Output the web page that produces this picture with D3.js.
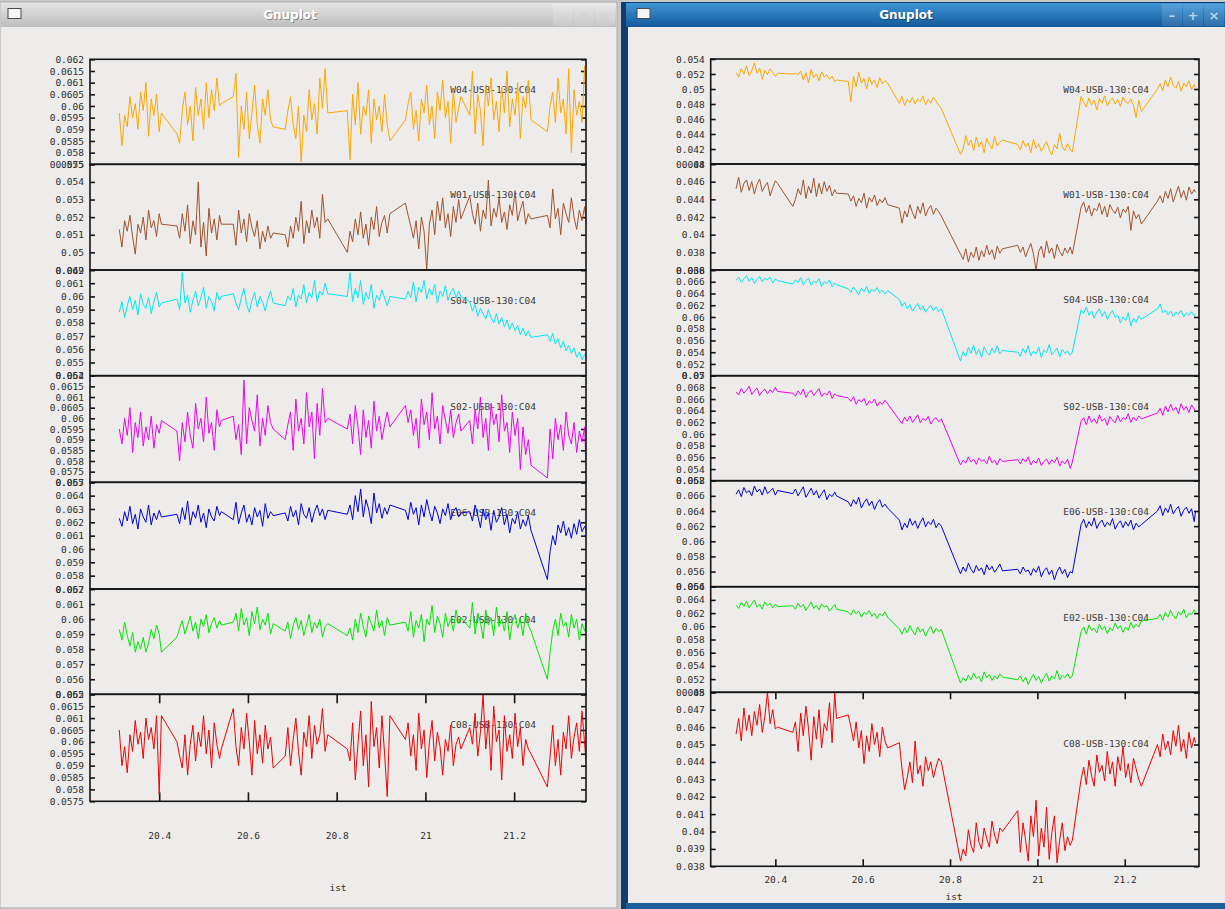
<!DOCTYPE html>
<html>
<head>
<meta charset="utf-8">
<script src="https://cdn.jsdelivr.net/npm/d3@7"></script>
<style>
  body { margin: 0; background: #c9c9c9; }
  svg { display: block; }
</style>
</head>
<body>
<div id="graf"></div>
<script>
// I. Datos (valores en unidades de 1e-4)
const unidad = 1e-4

const tiempo = [
  20.310, 20.316, 20.322, 20.328, 20.334, 20.340, 20.346, 20.352, 20.358, 20.364, 20.370, 20.376, 20.382, 20.388, 20.394, 20.400, 20.405,
  20.440, 20.446, 20.452, 20.458, 20.464, 20.470, 20.476, 20.482, 20.488, 20.494, 20.500, 20.506, 20.512, 20.518, 20.524, 20.530, 20.536, 20.540,
  20.567, 20.573, 20.579, 20.585, 20.591, 20.597, 20.603, 20.609, 20.615, 20.621, 20.627, 20.633, 20.639, 20.645, 20.651, 20.657,
  20.684, 20.690, 20.696, 20.702, 20.708, 20.714, 20.720, 20.726, 20.732, 20.738, 20.744, 20.750, 20.756, 20.762, 20.768, 20.774, 20.780,
  20.824, 20.830, 20.836, 20.842, 20.848, 20.854, 20.860, 20.866, 20.872, 20.878, 20.884, 20.890, 20.896, 20.902, 20.908, 20.914, 20.920,
  20.955, 20.961, 20.967, 20.973, 20.979, 20.985, 20.991, 20.997, 21.003, 21.009, 21.015, 21.021, 21.027, 21.033, 21.039, 21.045, 21.051, 21.057, 21.063, 21.069, 21.075, 21.080,
  21.100, 21.106, 21.112, 21.118, 21.124, 21.130, 21.136, 21.142, 21.148, 21.154, 21.160, 21.166, 21.172, 21.178, 21.184, 21.190, 21.196, 21.202, 21.208, 21.214, 21.220, 21.226, 21.232, 21.238,
  21.275, 21.281, 21.287, 21.293, 21.299, 21.305, 21.311, 21.317, 21.323, 21.329, 21.335, 21.341, 21.347, 21.353, 21.359, 21.362
]

// ventana izquierda
const w04Izq = [
  597, 583, 596, 591, 604, 595, 601, 590, 606, 598, 610, 587, 603, 596, 605, 589, 597,
  588, 584, 598, 606, 592, 600, 585, 608, 596, 603, 590, 610, 595, 607, 598, 612, 600, 601,
  604, 614, 578, 600, 590, 606, 586, 597, 609, 592, 584, 603, 596, 607, 594, 591,
  590, 598, 604, 592, 586, 600, 576, 596, 589, 607, 594, 601, 588, 612, 599, 616, 597,
  598, 577, 605, 592, 610, 588, 600, 596, 607, 584, 603, 594, 600, 589, 605, 592, 585,
  594, 601, 606, 590, 598, 585, 603, 597, 609, 592, 600, 586, 606, 598, 611, 595, 602, 584, 607, 593, 599, 604,
  596, 615, 588, 605, 598, 583, 609, 600, 612, 594, 602, 589, 608, 597, 615, 591, 603, 596, 610, 586, 604, 599, 611, 594,
  589, 600, 606, 593, 612, 597, 603, 588, 616, 580, 607, 596, 602, 593, 617, 600
]
const w01Izq = [
  513, 503, 518, 512, 521, 509, 499, 516, 511, 520, 507, 524, 514, 518, 509, 522, 516,
  515, 508, 522, 512, 527, 505, 518, 510, 540, 503, 517, 498, 525, 511, 519, 507, 521, 516,
  516, 504, 524, 511, 519, 506, 522, 514, 509, 518, 502, 512, 506, 515, 508, 511,
  510, 503, 515, 508, 520, 512, 529, 505, 518, 511, 524, 514, 520, 508, 533, 517, 519,
  500, 512, 506, 519, 510, 523, 508, 516, 504, 520, 513, 526, 509, 517, 521, 511, 522,
  528, 521, 515, 508, 518, 502, 520, 512, 490, 516, 524, 510, 529, 518, 531, 514, 522, 509, 526, 517, 530, 519,
  532, 522, 516, 528, 512, 524, 519, 541, 515, 525, 520, 531, 517, 523, 513, 527, 521, 535, 518, 524, 529, 516, 522, 519,
  521, 514, 536, 519, 525, 510, 528, 522, 517, 531, 520, 513, 524, 518, 526, 517
]
const s04Izq = [
  588, 596, 584, 593, 600, 590, 597, 586, 602, 594, 591, 599, 587, 596, 603, 592, 595,
  598, 590, 618, 595, 601, 588, 597, 604, 593, 599, 607, 591, 600, 596, 589, 603, 597, 600,
  602, 595, 590, 599, 606, 594, 588, 597, 603, 592, 600, 596, 589, 598, 604, 595,
  593, 600, 597, 606, 592, 601, 598, 609, 595, 603, 599, 612, 596, 604, 601, 610, 602,
  600, 618, 596, 606, 599, 612, 594, 603, 598, 609, 591, 601, 597, 605, 599, 593, 600,
  598, 604, 599, 611, 596, 607, 603, 612, 598, 606, 601, 609, 595, 604, 600, 608, 597, 603, 606, 599, 604, 600,
  596, 589, 594, 585, 591, 587, 583, 590, 584, 580, 587, 579, 584, 577, 582, 575, 580, 574, 578, 571, 576, 570, 574, 569,
  571, 566, 572, 564, 568, 561, 566, 559, 563, 557, 561, 554, 558, 552, 556, 553
]
const s02Izq = [
  595, 588, 600, 592, 605, 584, 598, 591, 603, 587, 596, 590, 601, 586, 597, 593, 599,
  594, 580, 598, 589, 603, 592, 586, 607, 595, 600, 589, 610, 593, 598, 585, 604, 596, 599,
  601, 590, 597, 583, 618, 588, 605, 599, 594, 611, 587, 600, 592, 606, 598, 595,
  590, 597, 603, 585, 609, 594, 600, 588, 612, 596, 603, 581, 607, 592, 614, 598, 600,
  595, 602, 588, 606, 596, 583, 604, 591, 599, 586, 608, 594, 601, 590, 597, 603, 596,
  606, 598, 604, 592, 600, 586, 609, 597, 603, 590, 612, 595, 601, 588, 606, 599, 593, 604, 591, 598, 602, 594,
  599, 588, 604, 595, 610, 591, 600, 585, 607, 597, 602, 589, 611, 594, 598, 584, 603, 592, 600, 576, 596, 583, 590, 578,
  572, 595, 581, 600, 590, 597, 585, 603, 592, 588, 598, 584, 594, 589, 596, 578
]
const e06Izq = [
  623, 617, 628, 621, 632, 619, 626, 615, 630, 624, 620, 633, 618, 627, 622, 629, 624,
  626, 619, 631, 622, 636, 618, 628, 623, 633, 620, 627, 616, 630, 624, 621, 632, 625, 628,
  622, 635, 619, 627, 633, 620, 626, 618, 631, 624, 629, 617, 634, 623, 628, 625,
  627, 621, 632, 624, 629, 618, 634, 626, 623, 631, 620, 628, 633, 625, 630, 622, 629,
  626, 633, 622, 640, 628, 645, 624, 637, 630, 619, 642, 627, 634, 623, 631, 626, 633,
  629, 622, 635, 626, 631, 618, 633, 624, 637, 628, 621, 632, 627, 619, 630, 625, 634, 622, 628, 631, 624, 627,
  628, 621, 633, 625, 616, 630, 622, 627, 614, 629, 620, 624, 631, 618, 626, 612, 623, 619, 628, 615, 622, 617, 625, 614,
  577, 598, 610, 603, 618, 612, 621, 610, 616, 608, 619, 611, 622, 613, 617, 614
]
const e02Izq = [
  593, 586, 598, 589, 582, 591, 578, 585, 580, 588, 578, 584, 593, 587, 596, 590, 578,
  588, 594, 599, 590, 596, 602, 592, 598, 587, 600, 595, 603, 591, 597, 601, 594, 599, 596,
  598, 604, 592, 607, 596, 601, 589, 605, 597, 608, 593, 600, 596, 604, 590, 597,
  592, 598, 587, 596, 601, 593, 599, 589, 596, 603, 591, 598, 594, 600, 588, 595, 597,
  589, 594, 586, 600, 591, 604, 595, 588, 602, 597, 592, 606, 594, 599, 589, 601, 596,
  598, 592, 605, 588, 599, 594, 603, 585, 600, 596, 609, 591, 602, 597, 588, 604, 595, 600, 592, 606, 597, 601,
  594, 611, 590, 604, 598, 587, 606, 596, 601, 589, 608, 595, 600, 592, 605, 586, 598, 603, 594, 600, 589, 604, 596, 592,
  560, 578, 592, 600, 589, 604, 595, 598, 588, 603, 594, 600, 586, 597, 592, 599
]
const c08Izq = [
  605, 590, 598, 587, 603, 596, 609, 599, 604, 593, 610, 601, 606, 597, 611, 578, 611,
  600, 594, 589, 603, 586, 599, 607, 592, 604, 598, 611, 595, 605, 589, 608, 599, 593, 597,
  614, 598, 590, 606, 597, 612, 600, 586, 609, 595, 603, 591, 607, 597, 602, 589,
  594, 606, 590, 601, 610, 596, 586, 604, 598, 611, 593, 607, 599, 603, 614, 596, 603,
  597, 592, 608, 584, 599, 613, 590, 603, 581, 617, 598, 606, 589, 611, 595, 577, 611,
  601, 608, 594, 603, 588, 612, 597, 605, 585, 600, 609, 592, 604, 598, 586, 601, 596, 607, 590, 599, 602, 597,
  606, 599, 612, 594, 604, 620, 597, 609, 588, 615, 600, 605, 584, 611, 596, 603, 593, 612, 598, 606, 590, 601, 597, 595,
  581, 594, 607, 590, 601, 586, 604, 597, 611, 593, 602, 608, 596, 613, 599, 592
]

// ventana derecha
const w04Der = [
  522, 516, 527, 520, 531, 518, 524, 535, 521, 528, 513, 525, 519, 527, 522, 517, 521,
  520, 521, 519, 524, 512, 522, 508, 526, 515, 520, 511, 523, 516, 519, 513, 517, 510, 512,
  510, 483, 517, 503, 522, 508, 514, 500, 516, 506, 512, 502, 515, 507, 511, 508,
  481, 490, 478, 486, 482, 489, 480, 487, 483, 491, 479, 486, 481, 489, 484, 478, 474,
  413, 420, 438, 425, 432, 418, 436, 423, 430, 415, 434, 426, 420, 437, 424, 429, 432,
  426, 419, 431, 423, 428, 415, 433, 421, 427, 417, 424, 430, 419, 412, 426, 420, 441, 423, 418, 427, 420, 416,
  490, 482, 476, 488, 479, 485, 472, 487, 481, 491, 478, 484, 488, 480, 486, 477, 489, 483, 481, 487, 478, 462, 485, 470,
  500, 507, 498, 512, 503, 516, 505, 501, 510, 497, 508, 503, 511, 499, 506, 502
]
const w01Der = [
  452, 465, 448, 458, 462, 450, 460, 446, 457, 463, 449, 455, 459, 444, 453, 461, 458,
  432, 440, 452, 445, 462, 441, 455, 447, 464, 443, 458, 446, 460, 449, 456, 444, 451, 447,
  446, 438, 444, 432, 441, 436, 447, 430, 442, 437, 445, 433, 440, 436, 442, 434,
  430, 413, 427, 420, 434, 425, 418, 432, 424, 436, 421, 429, 433, 423, 430, 426, 421,
  378, 372, 384, 369, 380, 374, 386, 371, 382, 375, 388, 377, 383, 372, 387, 379, 384,
  388, 380, 386, 375, 383, 390, 378, 360, 381, 387, 374, 393, 379, 385, 373, 389, 381, 376, 385, 379, 386, 378,
  431, 437, 425, 433, 421, 430, 427, 436, 423, 432, 420, 434, 428, 424, 431, 419, 429, 425, 432, 405, 427, 418, 423, 412,
  438, 444, 436, 449, 441, 452, 437, 446, 455, 442, 450, 439, 454, 446, 451, 448
]
const s04Der = [
  662, 668, 659, 665, 670, 661, 667, 657, 664, 669, 660, 666, 663, 668, 658, 665, 662,
  656, 663, 659, 667, 655, 662, 666, 654, 661, 658, 665, 652, 660, 657, 663, 651, 658, 655,
  648, 642, 651, 645, 638, 649, 643, 652, 640, 647, 644, 650, 641, 646, 639, 645,
  630, 618, 625, 614, 621, 610, 617, 623, 612, 619, 608, 615, 620, 611, 617, 609, 614,
  525, 541, 533, 548, 538, 552, 536, 545, 531, 549, 540, 535, 547, 539, 551, 537, 543,
  540, 533, 546, 538, 551, 534, 542, 537, 549, 531, 544, 539, 553, 536, 541, 547, 532, 545, 538, 542, 535, 540,
  612, 606, 617, 603, 610, 598, 608, 614, 601, 609, 596, 605, 611, 599, 603, 590, 600, 594, 607, 585, 598, 591, 602, 596,
  614, 622, 607, 612, 604, 610, 601, 608, 605, 611, 600, 607, 603, 609, 602, 606
]
const s02Der = [
  672, 667, 678, 670, 675, 682, 668, 674, 679, 666, 673, 677, 669, 676, 671, 680, 673,
  670, 665, 674, 668, 677, 663, 671, 675, 666, 672, 678, 664, 670, 667, 674, 661, 669, 666,
  662, 656, 664, 651, 659, 655, 661, 649, 657, 653, 660, 648, 655, 651, 658, 652,
  624, 618, 629, 622, 631, 620, 626, 633, 619, 627, 623, 630, 617, 625, 628, 621, 626,
  547, 555, 550, 561, 552, 557, 548, 559, 553, 556, 549, 562, 551, 555, 547, 558, 553,
  556, 549, 558, 552, 561, 547, 555, 550, 559, 546, 553, 557, 548, 556, 551, 560, 545, 554, 549, 557, 541, 552,
  622, 628, 616, 631, 620, 626, 618, 633, 622, 627, 615, 630, 624, 619, 632, 621, 628, 625, 635, 620, 629, 623, 631, 626,
  636, 644, 632, 648, 638, 651, 640, 646, 635, 652, 641, 647, 637, 650, 643, 639
]
const e06Der = [
  662, 668, 659, 671, 664, 667, 660, 673, 665, 669, 661, 672, 663, 666, 670, 661, 667,
  663, 669, 660, 666, 672, 658, 664, 670, 661, 667, 657, 663, 668, 655, 662, 659, 665, 660,
  652, 646, 655, 649, 658, 644, 651, 656, 647, 653, 642, 650, 655, 645, 649, 644,
  628, 615, 624, 618, 630, 621, 627, 617, 625, 631, 619, 626, 622, 629, 618, 624, 620,
  557, 566, 560, 571, 563, 558, 568, 561, 565, 556, 569, 562, 567, 559, 564, 570, 561,
  563, 557, 566, 560, 562, 555, 564, 559, 567, 553, 561, 565, 556, 562, 549, 560, 566, 557, 563, 552, 560, 558,
  622, 629, 618, 626, 620, 631, 617, 624, 628, 619, 625, 621, 630, 616, 623, 627, 618, 626, 620, 628, 615, 624, 619, 622,
  640, 647, 634, 644, 638, 649, 636, 642, 646, 633, 641, 645, 637, 643, 626, 639
]
const e02Der = [
  632, 627, 636, 630, 638, 628, 634, 640, 629, 633, 626, 637, 631, 635, 628, 633, 630,
  631, 626, 635, 629, 633, 624, 630, 637, 627, 632, 625, 634, 629, 631, 623, 628, 633, 626,
  622, 617, 625, 619, 623, 614, 621, 618, 624, 615, 620, 612, 619, 616, 622, 614,
  596, 588, 598, 590, 601, 593, 587, 599, 591, 596, 585, 594, 600, 589, 597, 592, 595,
  514, 522, 517, 526, 519, 529, 521, 524, 516, 531, 522, 527, 518, 525, 520, 528, 523,
  519, 525, 516, 523, 512, 521, 527, 518, 524, 514, 522, 529, 517, 525, 520, 533, 519, 526, 522, 528, 521, 525,
  592, 599, 588, 602, 594, 597, 590, 603, 595, 600, 589, 598, 593, 605, 596, 601, 591, 599, 594, 606, 597, 603, 599, 608,
  612, 618, 609, 621, 614, 624, 616, 611, 622, 617, 626, 613, 620, 618, 625, 622
]
const c08Der = [
  456, 465, 452, 471, 458, 467, 455, 469, 461, 473, 457, 466, 480, 462, 470, 459, 460,
  457, 463, 446, 468, 455, 472, 459, 441, 466, 453, 470, 448, 462, 458, 474, 451, 480, 465,
  467, 460, 452, 463, 448, 458, 439, 455, 446, 462, 450, 457, 443, 460, 452, 448,
  451, 436, 424, 431, 440, 428, 452, 433, 438, 426, 443, 435, 440, 431, 437, 442, 440,
  383, 390, 386, 401, 392, 388, 405, 394, 390, 402, 396, 391, 406, 398, 393, 402, 400,
  412, 388, 405, 395, 383, 409, 397, 418, 386, 402, 391, 414, 384, 399, 409, 382, 395, 405, 389, 397, 392, 395,
  430, 437, 427, 441, 432, 426, 444, 434, 438, 429, 446, 433, 440, 426, 443, 435, 449, 431, 439, 428, 442, 436, 430, 426,
  450, 443, 456, 447, 452, 444, 458, 449, 461, 446, 453, 442, 457, 448, 454, 451
]

const nombres = ['W04-USB-130:C04', 'W01-USB-130:C04', 'S04-USB-130:C04', 'S02-USB-130:C04',
                 'E06-USB-130:C04', 'E02-USB-130:C04', 'C08-USB-130:C04']
const colores = ['#ffa500', '#a0522d', '#00e8ee', '#ee00ee', '#0000d8', '#00e600', '#ee0000']

const rangosIzq = [[0.0575, 0.062], [0.049, 0.055], [0.054, 0.062], [0.057, 0.062],
                   [0.057, 0.065], [0.055, 0.062], [0.0575, 0.062]]
const pasosIzq = [0.0005, 0.001, 0.001, 0.0005, 0.001, 0.001, 0.0005]
const rangosDer = [[0.040, 0.054], [0.036, 0.048], [0.050, 0.068], [0.052, 0.070],
                   [0.054, 0.068], [0.050, 0.066], [0.038, 0.048]]
const pasosDer = [0.002, 0.002, 0.002, 0.002, 0.002, 0.002, 0.001]
const ticksX = [20.4, 20.6, 20.8, 21, 21.2]

// II. Configuración
const fuente = "'DejaVu Sans Mono', 'Liberation Mono', monospace"

graf = d3.select('#graf')
svg = graf.append('svg')
          .attr('width', 1225)
          .attr('height', 909)

defs = svg.append('defs')

function gradiente(id, c1, c2) {
  lg = defs.append('linearGradient').attr('id', id)
           .attr('x1', 0).attr('y1', 0).attr('x2', 0).attr('y2', 1)
  lg.append('stop').attr('offset', '0%').attr('stop-color', c1)
  lg.append('stop').attr('offset', '100%').attr('stop-color', c2)
}
gradiente('barraGris', '#e4e4e4', '#bdbdbd')
gradiente('barraAzul', '#3f97d8', '#12599a')

svg.append('rect').attr('width', 1225).attr('height', 909).attr('fill', '#c8c8c8')

// ventana izquierda
svg.append('rect').attr('x', 0).attr('y', 2).attr('width', 617).attr('height', 906)
   .attr('fill', '#edeceb').attr('stroke', '#a9a9a9')
svg.append('rect').attr('x', 1).attr('y', 3).attr('width', 615).attr('height', 24)
   .attr('fill', 'url(#barraGris)')

// ventana derecha
svg.append('rect').attr('x', 621).attr('y', 2).attr('width', 604).attr('height', 907)
   .attr('fill', '#113e6c')
svg.append('rect').attr('x', 626).attr('y', 3).attr('width', 599).attr('height', 24)
   .attr('fill', 'url(#barraAzul)')
svg.append('rect').attr('x', 628).attr('y', 27).attr('width', 597).attr('height', 876)
   .attr('fill', '#edeceb')
svg.append('rect').attr('x', 626).attr('y', 903).attr('width', 599).attr('height', 6)
   .attr('fill', '#1d5f98')

function barraTitulo(cx, xIcono, xBotones, colorBoton, colorSimbolo) {
  svg.append('text').attr('x', cx + 1).attr('y', 20).attr('text-anchor', 'middle')
     .attr('font-family', "'DejaVu Sans', sans-serif").attr('font-weight', 'bold')
     .attr('font-size', 12).attr('fill', 'rgba(0,0,0,0.35)').text('Gnuplot')
  svg.append('text').attr('x', cx).attr('y', 19).attr('text-anchor', 'middle')
     .attr('font-family', "'DejaVu Sans', sans-serif").attr('font-weight', 'bold')
     .attr('font-size', 12).attr('fill', '#ffffff').text('Gnuplot')
  svg.append('rect').attr('x', xIcono).attr('y', 8.5).attr('width', 13).attr('height', 10)
     .attr('fill', '#f6f6f6').attr('stroke', '#4a4a4a')
  ;['\u2013', '+', '\u00d7'].forEach((s, i) => {
    svg.append('rect').attr('x', xBotones + i * 21).attr('y', 4).attr('width', 20).attr('height', 22)
       .attr('fill', colorBoton)
    svg.append('text').attr('x', xBotones + i * 21 + 10).attr('y', 20).attr('text-anchor', 'middle')
       .attr('font-family', "'DejaVu Sans', sans-serif").attr('font-weight', 'bold')
       .attr('font-size', 13).attr('fill', colorSimbolo).text(s)
  })
}
barraTitulo(290, 8, 553, 'rgba(255,255,255,0.18)', '#d4d4d4')
barraTitulo(906, 637, 1162, 'rgba(255,255,255,0.12)', '#b9d3ea')

// III. Gráficas
const izquierda = {
  series: [w04Izq, w01Izq, s04Izq, s02Izq, e06Izq, e02Izq, c08Izq],
  rangos: rangosIzq, pasos: pasosIzq,
  dominioX: [20.244, 21.362],
  izq: 90, der: 586,
  bordes: [59.3, 164.3, 270, 375.7, 482.3, 589, 694.3, 801.3],
  clave: [31, 31.5, 31, 32, 31.5, 31, 31.5],
  ticX: 9, rellenoX: 31, etiquetaX: [338, 891]
}
const derecha = {
  series: [w04Der, w01Der, s04Der, s02Der, e06Der, e02Der, c08Der],
  rangos: rangosDer, pasos: pasosDer,
  dominioX: [20.252, 21.370],
  izq: 710.7, der: 1199,
  bordes: [59, 164, 270, 375.7, 480.7, 586.7, 692.3, 866.3],
  clave: [31, 31.5, 30.5, 32, 32, 32, 52],
  ticX: 7, rellenoX: 9.5, etiquetaX: [954, 900]
}

function formatoG(d) { return String(+d.toFixed(5)) }

function estiloEje(sel) {
  sel.attr('font-family', fuente).attr('font-size', 9.5).attr('color', '#151515')
  sel.select('.domain').remove()
  sel.selectAll('line').attr('stroke-width', 1.6)
  sel.selectAll('text').attr('fill', '#2e2e2e')
}

function dibujarGrafica(cfg, n) {
  x = d3.scaleLinear().domain(cfg.dominioX).range([cfg.izq, cfg.der])
  ultimo = cfg.series.length - 1

  cfg.series.forEach((serie, i) => {
    arriba = cfg.bordes[i]
    abajo = cfg.bordes[i + 1]
    y = d3.scaleLinear().domain(cfg.rangos[i]).range([abajo, arriba])
    valoresY = d3.range(cfg.rangos[i][0], cfg.rangos[i][1] + cfg.pasos[i] / 2, cfg.pasos[i])

    g = svg.append('g')

    // ejes Y (marcas hacia dentro)
    yIzq = g.append('g').attr('transform', `translate(${cfg.izq}, 0)`)
            .call(d3.axisLeft(y).tickValues(valoresY).tickFormat(formatoG)
                    .tickSizeInner(-5).tickSizeOuter(0).tickPadding(6))
    estiloEje(yIzq)
    yDer = g.append('g').attr('transform', `translate(${cfg.der}, 0)`)
            .call(d3.axisRight(y).tickValues(valoresY).tickFormat('')
                    .tickSizeInner(-5).tickSizeOuter(0))
    estiloEje(yDer)

    // eje X solo en el panel inferior
    if (i === ultimo) {
      xAbajo = g.append('g').attr('transform', `translate(0, ${abajo})`)
                .call(d3.axisBottom(x).tickValues(ticksX).tickFormat(formatoG)
                        .tickSizeInner(-cfg.ticX).tickSizeOuter(0).tickPadding(cfg.rellenoX))
      estiloEje(xAbajo)
      xArriba = g.append('g').attr('transform', `translate(0, ${arriba})`)
                 .call(d3.axisTop(x).tickValues(ticksX).tickFormat('')
                         .tickSizeInner(-cfg.ticX).tickSizeOuter(0))
      estiloEje(xArriba)
    }

    // leyenda
    g.append('text')
     .attr('x', cfg.der - 50)
     .attr('y', arriba + cfg.clave[i])
     .attr('text-anchor', 'end')
     .attr('dominant-baseline', 'middle')
     .attr('font-family', fuente).attr('font-size', 9.5)
     .attr('fill', '#3a3a3a')
     .text(nombres[i])

    // datos
    idClip = `clip-${n}-${i}`
    defs.append('clipPath').attr('id', idClip)
        .append('rect').attr('x', cfg.izq).attr('y', arriba)
        .attr('width', cfg.der - cfg.izq).attr('height', abajo - arriba)

    puntos = serie.slice(0, tiempo.length).map((v, k) => ({ t: tiempo[k], v: v * unidad }))
    linea = d3.line().x(d => x(d.t)).y(d => y(d.v))

    g.append('path')
     .datum(puntos)
     .attr('clip-path', `url(#${idClip})`)
     .attr('fill', 'none')
     .attr('stroke', colores[i])
     .attr('stroke-width', 1)
     .attr('stroke-linejoin', 'round')
     .attr('d', linea)

    // marco del panel
    g.append('rect')
     .attr('x', cfg.izq).attr('y', arriba)
     .attr('width', cfg.der - cfg.izq).attr('height', abajo - arriba)
     .attr('fill', 'none').attr('stroke', '#151515').attr('stroke-width', 1.6)
  })

  svg.append('text')
     .attr('x', cfg.etiquetaX[0]).attr('y', cfg.etiquetaX[1])
     .attr('text-anchor', 'middle')
     .attr('font-family', fuente).attr('font-size', 9.5)
     .attr('fill', '#2e2e2e')
     .text('ist')
}

// IV. Despliegue
dibujarGrafica(izquierda, 0)
dibujarGrafica(derecha, 1)
</script>
</body>
</html>
